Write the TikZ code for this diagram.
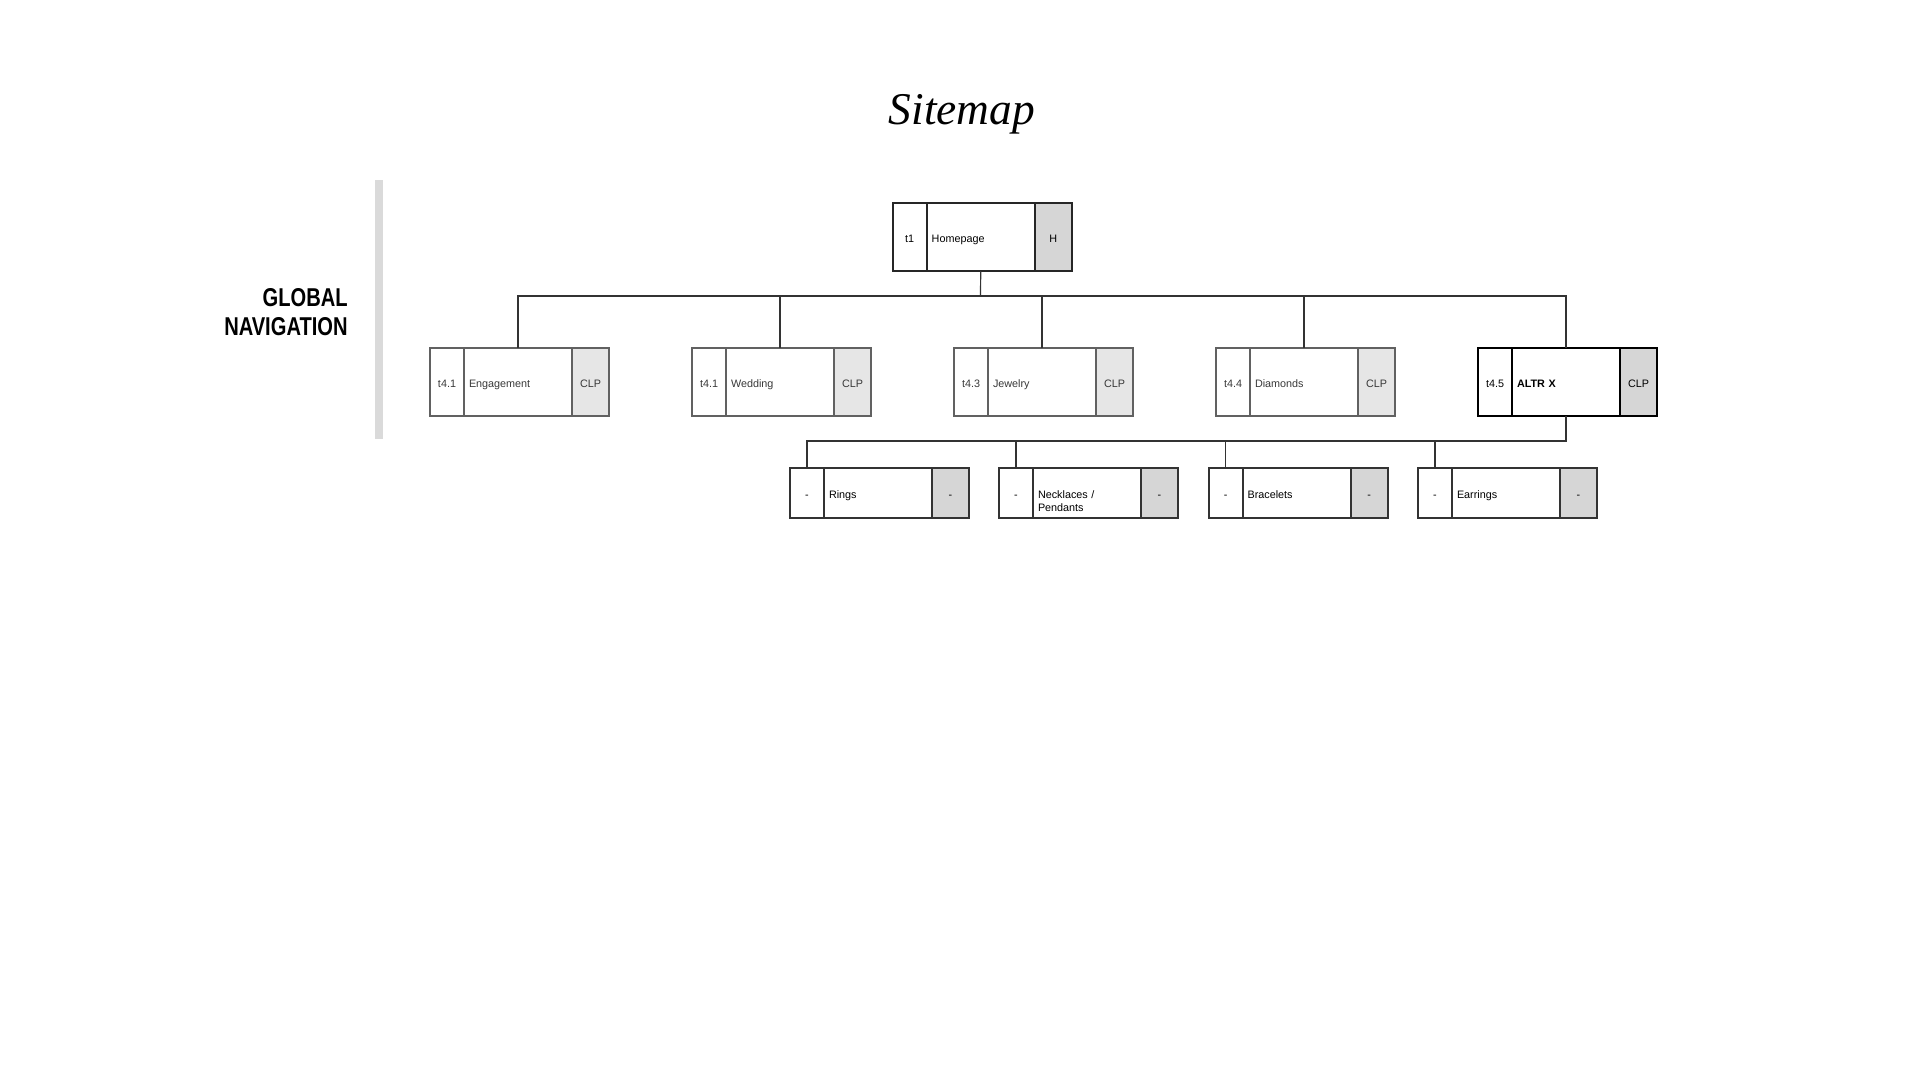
\documentclass[tikz,border=0pt]{standalone}
\usepackage{fontspec}
\setmainfont{Liberation Sans}
\newfontfamily\titlefont{Liberation Serif}
\newfontfamily\navfont[FakeStretch=0.78]{Liberation Sans}
\usetikzlibrary{positioning}
\definecolor{tagdark}{HTML}{D6D6D6}
\definecolor{taglight}{HTML}{E6E6E6}
\definecolor{barcol}{HTML}{DADADA}

\begin{document}
\begin{tikzpicture}[x=0.5pt, y=-0.5pt, node distance=0pt,
  cell/.style={line width=0.9pt, outer sep=0pt, inner sep=0pt, minimum height=34pt, text height=6.2pt, text depth=0.4pt, font=\fontsize{5.4}{6.5}\selectfont},
  idcell/.style={cell, minimum width=17pt},
  namecell/.style={cell, text width=49pt, inner xsep=2.5pt, align=left},
  tagcell/.style={cell, minimum width=18.5pt, fill=#1},
  lvone/.style={draw=black!85, text=black},
  lvtwo/.style={draw=black!62, text=black!78},
  lvalt/.style={draw=black, text=black},
  lvlow/.style={draw=black!80, text=black, minimum height=25pt},
  link/.style={draw=black!80, line width=0.6pt}]
\useasboundingbox (0,0) rectangle (1920,1080);
\node[font=\titlefont\itshape\fontsize{22.7}{27}\selectfont, anchor=base] (title) at (962,125) {Sitemap};
\fill[barcol] (374.5,180) rectangle (383,439);
\node[font=\navfont\bfseries\fontsize{12.9}{14.5}\selectfont, align=right, anchor=east, inner sep=0pt] (nav) at (348,312) {GLOBAL\\NAVIGATION};
\node[idcell, lvone] (home-id) at (909.7,237) {t1};\node[namecell, lvone, right=of home-id] (home) {Homepage};\node[tagcell=tagdark, lvone, right=of home] (home-tag) {H};
\node[idcell, lvtwo] (eng-id) at (447,382) {t4.1};\node[namecell, lvtwo, right=of eng-id] (eng) {Engagement};\node[tagcell=taglight, lvtwo, right=of eng] (eng-tag) {CLP};
\node[idcell, lvtwo] (wed-id) at (709,382) {t4.1};\node[namecell, lvtwo, right=of wed-id] (wed) {Wedding};\node[tagcell=taglight, lvtwo, right=of wed] (wed-tag) {CLP};
\node[idcell, lvtwo] (jew-id) at (971,382) {t4.3};\node[namecell, lvtwo, right=of jew-id] (jew) {Jewelry};\node[tagcell=taglight, lvtwo, right=of jew] (jew-tag) {CLP};
\node[idcell, lvtwo] (dia-id) at (1233,382) {t4.4};\node[namecell, lvtwo, right=of dia-id] (dia) {Diamonds};\node[tagcell=taglight, lvtwo, right=of dia] (dia-tag) {CLP};
\node[idcell, lvalt] (alt-id) at (1495,382) {t4.5};\node[namecell, lvalt, right=of alt-id] (alt) {\bfseries ALTR X};\node[tagcell=tagdark, lvalt, right=of alt] (alt-tag) {CLP};
\node[idcell, lvlow] (rin-id) at (807,493) {-};\node[namecell, lvlow, right=of rin-id] (rin) {Rings};\node[tagcell=tagdark, lvlow, right=of rin] (rin-tag) {-};
\node[idcell, lvlow] (nec-id) at (1016,493) {-};\node[namecell, lvlow, right=of nec-id] (nec) {Necklaces /\\Pendants};\node[tagcell=tagdark, lvlow, right=of nec] (nec-tag) {-};
\node[idcell, lvlow] (bra-id) at (1225.6,493) {-};\node[namecell, lvlow, right=of bra-id] (bra) {Bracelets};\node[tagcell=tagdark, lvlow, right=of bra] (bra-tag) {-};
\node[idcell, lvlow] (ear-id) at (1435,493) {-};\node[namecell, lvlow, right=of ear-id] (ear) {Earrings};\node[tagcell=tagdark, lvlow, right=of ear] (ear-tag) {-};
\coordinate (bus) at (980.5,296);\coordinate (sub) at (1566,441);
\draw[link] (home.south) -- (bus);
\draw[link] (eng.north) |- (bus) -| (alt.north);
\draw[link] (wed.north) -- (wed.north |- bus);\draw[link] (jew.north) -- (jew.north |- bus);\draw[link] (dia.north) -- (dia.north |- bus);
\draw[link] (alt.south) -- (sub) -| (rin-id.north);
\draw[link] (nec-id.north) -- (nec-id.north |- sub);\draw[link] (bra-id.north) -- (bra-id.north |- sub);\draw[link] (ear-id.north) -- (ear-id.north |- sub);
\end{tikzpicture}
\end{document}
